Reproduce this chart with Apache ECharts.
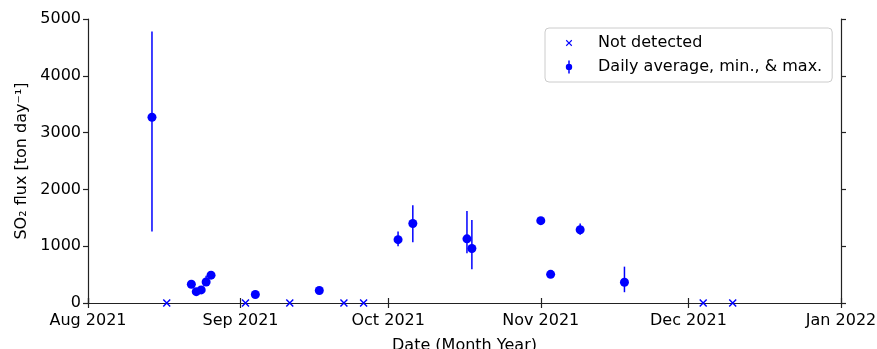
<!DOCTYPE html>
<html>
<head>
<meta charset="utf-8">
<script src="https://cdn.jsdelivr.net/npm/echarts@6/dist/echarts.min.js"></script>
<style>html,body{margin:0;padding:0;background:#fff;}#c{width:877px;height:349px;}</style>
</head>
<body>
<div id="c"></div>
<script>
// Daily average with min/max
const avgDates = ['2021-08-14','2021-08-22','2021-08-23','2021-08-24','2021-08-25','2021-08-26','2021-09-04','2021-09-17','2021-10-03','2021-10-06','2021-10-17','2021-10-18','2021-11-01','2021-11-03','2021-11-09','2021-11-18'];
const avgValues = [3270, 330, 200, 230, 370, 490, 150, 220, 1115, 1400, 1130, 960, 1450, 505, 1290, 365];
const minValues = [1260, 330, 200, 230, 340, 470, 150, 220, 1000, 1070, 875, 595, 1450, 505, 1200, 190];
const maxValues = [4780, 330, 200, 230, 480, 520, 150, 220, 1260, 1720, 1620, 1460, 1450, 505, 1400, 640];
// Not detected days
const ndDates = ['2021-08-17','2021-09-02','2021-09-11','2021-09-22','2021-09-26','2021-12-04','2021-12-10'];
const ndValues = [0, 0, 0, 0, 0, 0, 0];
// Axis
const xMin = '2021-08-01';
const xMax = '2022-01-01';
const yTicks = [0, 1000, 2000, 3000, 4000, 5000];

const FONT = 'DejaVu Sans';
const BLUE = '#0000ff';
const AX = '#222';
const X_PATH = 'path://M0,1.3L1.3,0L5,3.7L8.7,0L10,1.3L6.3,5L10,8.7L8.7,10L5,6.3L1.3,10L0,8.7L3.7,5Z';
const X_LEG = 'path://M-6,-6M16,16M0,1.3L1.3,0L5,3.7L8.7,0L10,1.3L6.3,5L10,8.7L8.7,10L5,6.3L1.3,10L0,8.7L3.7,5Z';
const EB_LEG = 'path://M0,0M14,14M6.25,0.5L7.75,0.5L7.75,13.5L6.25,13.5Z M10.2,7A3.2,3.2,0,1,1,3.8,7A3.2,3.2,0,1,1,10.2,7Z';

const chart = echarts.init(document.getElementById('c'), null, {renderer: 'canvas'});
const tMin = echarts.time.parse(xMin).getTime();
const tMax = echarts.time.parse(xMax).getTime();
const DAY = 86400000;

const axisCommon = {
  min: tMin, max: tMax,
  axisLine: {show: true, lineStyle: {color: AX, width: 1.2}},
  axisTick: {show: true, inside: false, length: 5, lineStyle: {color: AX, width: 1.2}},
  splitLine: {show: false}
};

chart.setOption({
  animation: false,
  backgroundColor: '#fff',
  grid: {left: 88, right: 36, top: 19, bottom: 46, containLabel: false, outerBoundsMode: 'none'},
  xAxis: [
    Object.assign({}, axisCommon, {
      type: 'time', position: 'bottom', splitNumber: 5, minInterval: 28 * DAY,
      axisLabel: {formatter: '{MMM} {yyyy}', fontFamily: FONT, fontSize: 16, color: '#000', margin: 10, showMinLabel: true, showMaxLabel: true, hideOverlap: false},
      name: 'Date (Month Year)', nameLocation: 'middle', nameGap: 35,
      nameTextStyle: {fontFamily: FONT, fontSize: 16, color: '#000'}
    }),
    Object.assign({}, axisCommon, {
      type: 'time', position: 'top', splitNumber: 5, minInterval: 28 * DAY,
      axisLabel: {show: false}
    })
  ],
  yAxis: [
    {
      type: 'value', min: yTicks[0], max: yTicks[yTicks.length - 1], interval: yTicks[1] - yTicks[0], position: 'left',
      axisLine: axisCommon.axisLine, axisTick: axisCommon.axisTick, splitLine: {show: false},
      axisLabel: {fontFamily: FONT, fontSize: 16, color: '#000', margin: 7, formatter: function (v) { return String(v); }},
      name: 'SO\u2082 flux [ton day\u207B\u00B9]', nameLocation: 'middle', nameGap: 52, nameRotate: 90,
      nameTextStyle: {fontFamily: FONT, fontSize: 16, color: '#000'}
    },
    {
      type: 'value', min: yTicks[0], max: yTicks[yTicks.length - 1], interval: yTicks[1] - yTicks[0], position: 'right',
      axisLine: axisCommon.axisLine, axisTick: axisCommon.axisTick, splitLine: {show: false},
      axisLabel: {show: false}
    }
  ],
  legend: {
    orient: 'vertical', left: 545, top: 28,
    padding: [7, 10, 7, 17], itemGap: 8, itemWidth: 14, itemHeight: 14,
    borderColor: '#cccccc', borderWidth: 1, borderRadius: 4, backgroundColor: '#fff',
    selectedMode: false,
    textStyle: {fontFamily: FONT, fontSize: 16, color: '#000', padding: [0, 0, 0, 17]},
    data: [
      {name: 'Not detected', icon: X_LEG, itemStyle: {color: BLUE, borderWidth: 0}},
      {name: 'Daily average, min., & max.', icon: EB_LEG, itemStyle: {color: BLUE, borderWidth: 0}}
    ]
  },
  series: [
    {
      name: 'Not detected', type: 'scatter', z: 3,
      symbol: X_PATH, symbolSize: 8,
      itemStyle: {color: BLUE, opacity: 1},
      data: ndDates.map((d, i) => [d, ndValues[i]])
    },
    {
      name: 'errorbars', type: 'custom', z: 1,
      renderItem: function (params, api) {
        const x = api.value(0), lo = api.value(1), hi = api.value(2);
        const p1 = api.coord([x, lo]), p2 = api.coord([x, hi]);
        return {type: 'line', shape: {x1: p1[0], y1: p1[1], x2: p2[0], y2: p2[1]}, style: {stroke: BLUE, lineWidth: 1.5}};
      },
      encode: {x: 0, y: [1, 2]},
      data: avgDates.map((d, i) => [d, minValues[i], maxValues[i]])
    },
    {
      name: 'Daily average, min., & max.', type: 'scatter', z: 2,
      symbol: 'circle', symbolSize: 9,
      itemStyle: {color: BLUE, opacity: 1},
      data: avgDates.map((d, i) => [d, avgValues[i]])
    }
  ]
});
</script>
</body>
</html>
